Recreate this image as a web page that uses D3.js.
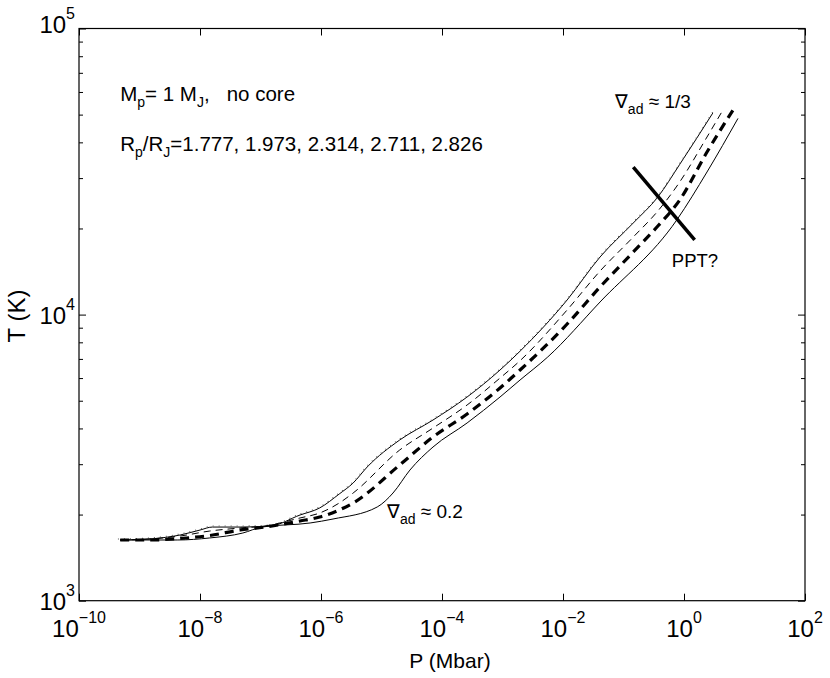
<!DOCTYPE html>
<html>
<head>
<meta charset="utf-8">
<script src="https://cdn.jsdelivr.net/npm/d3@7"></script>
<style>
body { margin: 0; background: #fff; }
text { font-family: "Liberation Sans", Arial, sans-serif; fill: #000; white-space: pre; }
</style>
</head>
<body>
<svg id="chart" width="830" height="678"></svg>
<script>
// tick values
var xTicks = [1e-10, 1e-8, 1e-6, 1e-4, 1e-2, 1e0, 1e2];
var yTicks = [1e3, 1e4, 1e5];

// P (Mbar) / T (K), one pair of arrays per curve
var pTop = [4.8e-10, 1.5e-9, 4.7e-9, 1.0e-8, 1.6e-8, 4.6e-8, 1.45e-7, 4.5e-7, 9.5e-7, 2.0e-6, 3.4e-6, 5.8e-6, 2.0e-5, 7.1e-5, 2.6e-4, 9.1e-4, 1.95e-3, 1.17e-2, 4.1e-2, 0.145, 0.37, 0.85, 3.0];
var tTop = [1630, 1644, 1697, 1766, 1809, 1809, 1824, 1993, 2109, 2360, 2579, 2933, 3645, 4281, 5152, 6402, 7450, 11250, 15900, 20900, 25770, 33500, 50680];

var pDot = [4.4e-10, 1.5e-9, 4.7e-9, 1.0e-8, 1.6e-8, 4.6e-8, 1.45e-7, 4.5e-7, 9.5e-7, 2.0e-6, 3.4e-6, 5.8e-6, 2.0e-5, 7.1e-5, 2.6e-4, 9.1e-4, 1.95e-3, 1.17e-2, 4.1e-2, 0.145, 0.37, 0.85, 3.0];
var tDot = [1643, 1657, 1711, 1780, 1824, 1824, 1839, 2009, 2126, 2379, 2600, 2957, 3674, 4316, 5194, 6454, 7510, 11340, 16030, 21070, 25980, 33770, 51090];

var pThin = [4.8e-10, 1.5e-9, 4.7e-9, 1.45e-8, 4.6e-8, 1.17e-7, 4.5e-7, 9.5e-7, 2.0e-6, 3.4e-6, 2.0e-5, 7.1e-5, 2.6e-4, 9.1e-4, 1.95e-3, 1.17e-2, 4.1e-2, 0.145, 0.37, 0.85, 2.4, 4.4];
var tThin = [1630, 1644, 1683, 1752, 1795, 1824, 1946, 2025, 2195, 2379, 3363, 4013, 4831, 6002, 6900, 10380, 14200, 18670, 23020, 29080, 41760, 51900];

var pThick = [4.8e-10, 1.5e-9, 4.7e-9, 1.45e-8, 4.6e-8, 1.17e-7, 4.5e-7, 9.5e-7, 2.0e-6, 3.4e-6, 2.0e-5, 7.1e-5, 2.6e-4, 9.1e-4, 1.95e-3, 1.17e-2, 4.1e-2, 0.145, 0.37, 0.85, 2.4, 6.5];
var tThick = [1630, 1630, 1650, 1690, 1766, 1809, 1899, 1961, 2075, 2195, 2981, 3734, 4494, 5540, 6400, 9271, 12490, 16550, 20400, 25150, 37010, 52000];

var pBot = [4.8e-10, 4.2e-9, 1.45e-8, 5.1e-8, 1.05e-7, 6.6e-7, 1.58e-6, 8.5e-6, 1.55e-5, 2.95e-5, 7.1e-5, 2.6e-4, 9.1e-4, 1.95e-3, 5.6e-3, 4.1e-2, 0.76, 2.4, 7.8];
var tBot = [1630, 1630, 1657, 1724, 1809, 1869, 1930, 2126, 2379, 2862, 3445, 4180, 5152, 5907, 7110, 11070, 21420, 31510, 48500];

// the "PPT?" bar
var pPPT = [0.145, 1.5];
var tPPT = [32800, 18230];

var svg = d3.select('#chart');
var plotL = 79, plotR = 805, plotT = 28.5, plotB = 600.7;

var x = d3.scaleLog().domain([1e-10, 1e2]).range([plotL, plotR]);
var y = d3.scaleLog().domain([1e3, 1e5]).range([plotB, plotT]);

var yMinor = y.ticks().filter(function(d){ return yTicks.indexOf(d) < 0; });

// ticks, all pointing inwards
function ticks(axis, tr, vals, len)
{
    var g = svg.append('g').attr('transform', tr)
        .call(axis.tickValues(vals).tickSize(-len).tickFormat(''));
    g.select('.domain').remove();
    g.selectAll('line').attr('stroke', '#000').attr('stroke-width', 1);
}
ticks(d3.axisBottom(x), 'translate(0,' + plotB + ')', xTicks, 7);
ticks(d3.axisTop(x), 'translate(0,' + plotT + ')', xTicks, 7);
ticks(d3.axisLeft(y), 'translate(' + plotL + ',0)', yTicks, 7);
ticks(d3.axisLeft(y), 'translate(' + plotL + ',0)', yMinor, 4);
ticks(d3.axisRight(y), 'translate(' + plotR + ',0)', yTicks, 7);
ticks(d3.axisRight(y), 'translate(' + plotR + ',0)', yMinor, 4);

svg.append('rect')
    .attr('x', plotL).attr('y', plotT)
    .attr('width', plotR - plotL).attr('height', plotB - plotT)
    .attr('fill', 'none').attr('stroke', '#000').attr('stroke-width', 1.2);

function expo(d){ return String(Math.round(Math.log10(d))).replace('-', '\u2212'); }

var xl = svg.selectAll('text.xl').data(xTicks).enter().append('text')
    .attr('class', 'xl')
    .attr('x', function(d){ return x(d); })
    .attr('y', 637)
    .attr('text-anchor', 'middle')
    .attr('font-size', 24);
xl.append('tspan').text('10');
xl.append('tspan').attr('font-size', 16).attr('dy', -14).text(function(d){ return expo(d); });

var yl = svg.selectAll('text.yl').data(yTicks).enter().append('text')
    .attr('class', 'yl')
    .attr('x', 75)
    .attr('y', function(d){ return y(d) + (d === 1e5 ? 4 : 9.5); })
    .attr('text-anchor', 'end')
    .attr('font-size', 24);
yl.append('tspan').text('10');
yl.append('tspan').attr('font-size', 16).attr('dy', -14).text(function(d){ return expo(d); });

svg.append('text')
    .attr('x', 450).attr('y', 668)
    .attr('text-anchor', 'middle')
    .attr('font-size', 21)
    .text('P (Mbar)');

svg.append('text')
    .attr('transform', 'translate(25,316) rotate(-90)')
    .attr('text-anchor', 'middle')
    .attr('font-size', 24)
    .text('T (K)');

// curves
var curves = [
    {p: pTop,   t: tTop,   w: 1,   dash: null,  col: '#000'},
    {p: pDot,   t: tDot,   w: 1.2, dash: '1,5', col: '#555'},
    {p: pThin,  t: tThin,  w: 1,   dash: '7,5', col: '#000'},
    {p: pThick, t: tThick, w: 3.2, dash: '9,6', col: '#000'},
    {p: pBot,   t: tBot,   w: 1,   dash: null,  col: '#000'}
];

var line = d3.line()
    .x(function(d){ return x(d[0]); })
    .y(function(d){ return y(d[1]); })
    .curve(d3.curveMonotoneX);

svg.selectAll('path.curve')
    .data(curves)
    .enter()
    .append('path')
    .attr('class', 'curve')
    .attr('d', function(c){ return line(d3.zip(c.p, c.t)); })
    .attr('fill', 'none')
    .attr('stroke', function(c){ return c.col; })
    .attr('stroke-width', function(c){ return c.w; })
    .attr('stroke-dasharray', function(c){ return c.dash; });

svg.append('path')
    .attr('d', d3.line().x(function(d){ return x(d[0]); }).y(function(d){ return y(d[1]); })(d3.zip(pPPT, tPPT)))
    .attr('stroke', '#000').attr('stroke-width', 3.5);

// annotations, placed in data units
function sub(t, s, txt, size)
{
    t.append('tspan').attr('font-size', size).attr('dy', 6).text(s);
    t.append('tspan').attr('dy', -6).text(txt);
}

var a1 = svg.append('text').attr('x', x(4.8e-10)).attr('y', y(56000)).attr('font-size', 20.5);
a1.append('tspan').text('M');
sub(a1, 'p', '= 1 M', 14);
sub(a1, 'J', ',   no core', 14);

var a2 = svg.append('text').attr('x', x(4.8e-10)).attr('y', y(37300)).attr('font-size', 20.5);
a2.append('tspan').text('R');
sub(a2, 'p', '/R', 14);
sub(a2, 'J', '=1.777, 1.973, 2.314, 2.711, 2.826', 14);

var a3 = svg.append('text').attr('x', x(0.072)).attr('y', y(52750)).attr('font-size', 19);
a3.append('tspan').text('\u2207');
sub(a3, 'ad', ' \u2248 1/3', 14);

var a4 = svg.append('text').attr('x', x(1.23e-5)).attr('y', y(1946)).attr('font-size', 19);
a4.append('tspan').text('\u2207');
sub(a4, 'ad', ' \u2248 0.2', 14);

svg.append('text').attr('x', x(0.63)).attr('y', y(14670)).attr('font-size', 18.5).text('PPT?');
</script>
</body>
</html>
